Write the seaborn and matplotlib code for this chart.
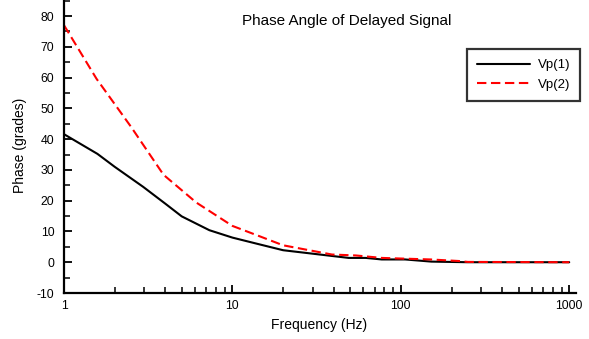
import numpy as np
import pandas as pd
import matplotlib
matplotlib.use("Agg")
import matplotlib.pyplot as plt
import seaborn as sns
from matplotlib.ticker import LogLocator, FixedLocator, FixedFormatter, MultipleLocator

# ---- data ----
freq_vp1 = [1, 1.58, 2.0, 2.95, 4.0, 5.0, 7.3, 10, 14, 20, 49, 62, 77, 106, 152, 250, 1000]
phase_vp1 = [41.6, 35.2, 31.0, 24.5, 19.0, 14.9, 10.4, 8.0, 6.0, 3.9, 1.4, 1.4, 0.9, 0.9, 0.2, 0.0, 0.0]

freq_vp2 = [1, 1.56, 2.5, 3.9, 6.1, 10, 14.4, 20, 39, 54, 77, 100, 150, 220, 250, 1000]
phase_vp2 = [77.0, 59.6, 44.0, 28.4, 19.4, 11.8, 8.5, 5.5, 2.5, 2.2, 1.4, 1.2, 0.9, 0.4, 0.1, 0.0]

series_labels = ["Vp(1)", "Vp(2)"]
x_tick_values = [1, 10, 100, 1000]
x_tick_labels = ["1", "10", "100", "1000"]
y_tick_values = [-10, 0, 10, 20, 30, 40, 50, 60, 70, 80]

title_text = "Phase Angle of Delayed Signal"
xlabel_text = "Frequency (Hz)"
ylabel_text = "Phase (grades)"

df1 = pd.DataFrame({"f": freq_vp1, "p": phase_vp1})
df2 = pd.DataFrame({"f": freq_vp2, "p": phase_vp2})

sns.set_theme(style="white")
plt.rcParams["font.family"] = ["Liberation Sans", "DejaVu Sans"]
plt.rcParams["axes.unicode_minus"] = False

fig = plt.figure(figsize=(5.89, 3.39), dpi=100)
ax = fig.add_axes([64 / 589, 1 - 293 / 339, (576 - 64) / 589, 293 / 339])

sns.lineplot(data=df1, x="f", y="p", ax=ax, color="black", linewidth=1.5,
             label=series_labels[0], estimator=None, sort=False)
sns.lineplot(data=df2, x="f", y="p", ax=ax, color="red", linewidth=1.5,
             linestyle=(0, (4.5, 2.2)), label=series_labels[1], estimator=None, sort=False)

ax.set_xscale("log")
ax.set_xlim(1, 1097)
ax.set_ylim(-10, 85.2)

ax.xaxis.set_major_locator(FixedLocator(x_tick_values))
ax.xaxis.set_major_formatter(FixedFormatter(x_tick_labels))
ax.xaxis.set_minor_locator(LogLocator(base=10, subs=np.arange(2, 10)))
ax.xaxis.set_minor_formatter(plt.NullFormatter())
ax.yaxis.set_major_locator(FixedLocator(y_tick_values))
ax.yaxis.set_minor_locator(MultipleLocator(5))

for s in ["top", "right"]:
    ax.spines[s].set_visible(False)
for s in ["left", "bottom"]:
    ax.spines[s].set_color("black")
    ax.spines[s].set_linewidth(1.6)

ax.tick_params(axis="both", which="both", bottom=True, left=True, top=False, right=False)
ax.tick_params(axis="both", which="major", direction="in", length=6, width=1.3,
               color="black", labelsize=8.8, labelcolor="black")
ax.tick_params(axis="both", which="minor", direction="in", length=4, width=1.1, color="black")
ax.tick_params(axis="y", which="major", pad=7)
ax.tick_params(axis="x", which="major", pad=5)

ax.set_xlabel("")
ax.set_ylabel("")
fig.text(319 / 589, 1 - 325 / 339, xlabel_text, ha="center", va="center", fontsize=10, color="black")
fig.text(20 / 589, 1 - 145 / 339, ylabel_text, ha="center", va="center", rotation=90,
         fontsize=10, color="black")
fig.text(347 / 589, 1 - 21.5 / 339, title_text, ha="center", va="center", fontsize=11, color="black")

leg = ax.legend(loc="upper left", bbox_to_anchor=(467 / 589, 1 - 49.3 / 339),
                bbox_transform=fig.transFigure, borderaxespad=0, frameon=True,
                fontsize=9.5, handlelength=4.0, handletextpad=0.6, borderpad=0.75,
                labelspacing=0.55, fancybox=False)
leg.get_frame().set_edgecolor("black")
leg.get_frame().set_linewidth(1.6)
for t in leg.get_texts():
    t.set_color("black")

fig.savefig("out.png", dpi=100)
